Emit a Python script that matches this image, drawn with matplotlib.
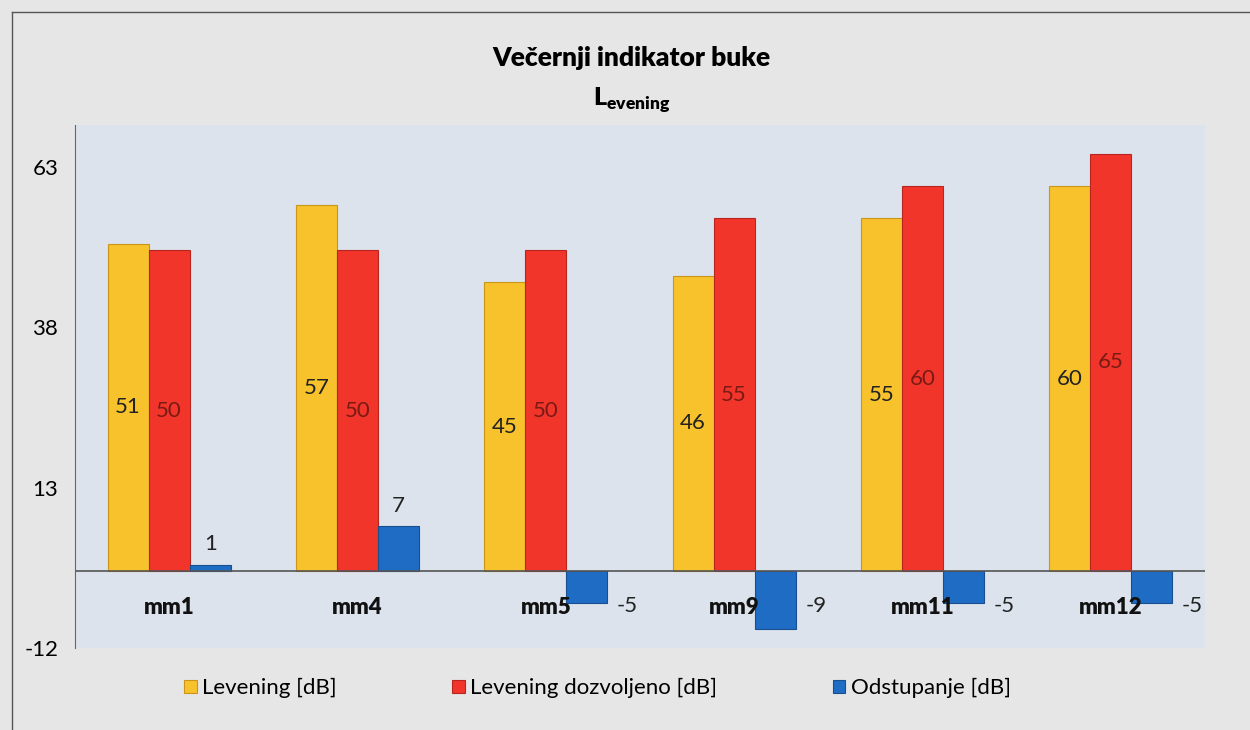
import numpy as np
import matplotlib.pyplot as plt

plt.rcParams['font.family'] = ['Lato', 'DejaVu Sans']
plt.rcParams['axes.unicode_minus'] = False

# data
categories = ["mm1", "mm4", "mm5", "mm9", "mm11", "mm12"]
levening = [51, 57, 45, 46, 55, 60]
dozvoljeno = [50, 50, 50, 55, 60, 65]
odstupanje = [1, 7, -5, -9, -5, -5]
yticks = [-12, 13, 38, 63]

c_yel = "#F7C22B"
c_red = "#F2352B"
c_blu = "#1F6CC4"

fig = plt.figure(figsize=(12.5, 7.3), dpi=100)
fig.patch.set_facecolor("#E6E6E6")
ax = fig.add_axes([0.06, 0.112, 0.904, 0.717])
ax.set_facecolor("#DCE3EC")

x = np.arange(len(categories))
w = 0.218
b1 = ax.bar(x - w, levening, w, color=c_yel, edgecolor="#C9961A", linewidth=0.8, label="Levening [dB]")
b2 = ax.bar(x, dozvoljeno, w, color=c_red, edgecolor="#B8251E", linewidth=0.8, label="Levening dozvoljeno [dB]")
b3 = ax.bar(x + w, odstupanje, w, color=c_blu, edgecolor="#174F92", linewidth=0.8, label="Odstupanje [dB]")

# labels inside the bars
for xi, v in zip(x - w, levening):
    ax.text(xi, v / 2, str(v), ha="center", va="center", fontsize=16, color="#222222")
for xi, v in zip(x, dozvoljeno):
    ax.text(xi, v / 2, str(v), ha="center", va="center", fontsize=16, color="#7A1A14")
for xi, v in zip(x + w, odstupanje):
    if v >= 0:
        ax.text(xi, v + 1.6, str(v), ha="center", va="bottom", fontsize=16, color="#222222")
    else:
        ax.text(xi + w / 2 + 0.05, -5.5, str(v), ha="left", va="center", fontsize=16, color="#222222")

# category names sit just under the zero line
for xi, name in zip(x, categories):
    ax.text(xi, -5.7, name, ha="center", va="center", fontsize=16, fontweight="heavy", color="#111111")

ax.axhline(0, color="#555555", linewidth=1.2, zorder=1)
ax.set_xlim(-0.5, len(categories) - 0.5)
ax.set_ylim(-12, 69.5)
ax.set_yticks(yticks)
ax.set_xticks([])
ax.tick_params(axis="y", length=0, labelsize=16, pad=12)
for s in ["top", "right", "bottom"]:
    ax.spines[s].set_visible(False)
ax.spines["left"].set_color("#666666")

fig.text(0.505, 0.92, "Večernji indikator buke", ha="center", va="center", fontsize=19, fontweight="heavy")
fig.text(0.505, 0.862, r"L$_{\mathregular{evening}}$", ha="center", va="center", fontsize=18, fontweight="heavy")

leg = fig.legend(handles=[b1, b2, b3], loc="center", bbox_to_anchor=(0.478, 0.057), ncol=3, frameon=False,
                 fontsize=16, handlelength=0.55, handleheight=0.55, handletextpad=0.25, columnspacing=5.2)

# chart border
fig.add_artist(plt.Line2D([0.0096, 0.0096], [0, 0.984], color="#555555", linewidth=1))
fig.add_artist(plt.Line2D([0.0096, 1], [0.984, 0.984], color="#555555", linewidth=1))

fig.savefig("out.png", dpi=100, facecolor=fig.get_facecolor())
